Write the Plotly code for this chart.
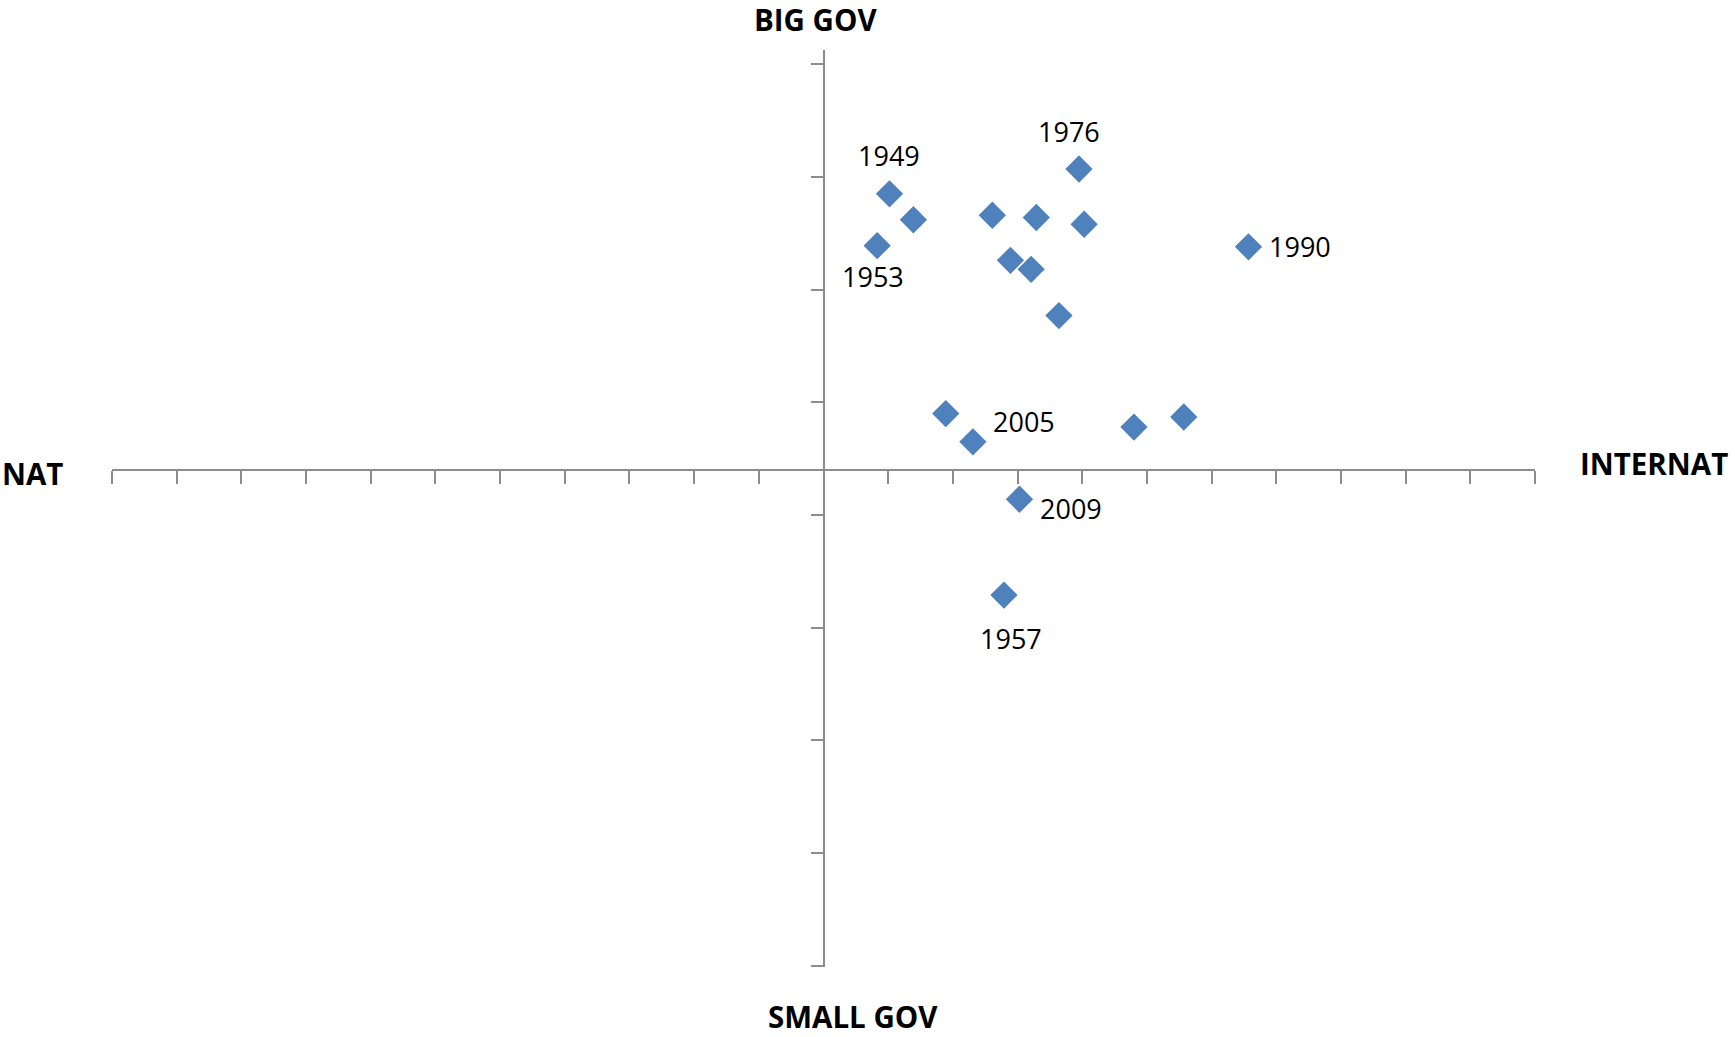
import plotly.graph_objects as go

# ---- data (axis units = tick spacing) ----
nat_internat = [1.02, 1.39, 0.83, 2.61, 3.29, 3.95, 4.03, 2.89, 3.21, 3.64,
                6.57, 1.89, 2.31, 4.80, 5.57, 3.03, 2.79]
big_small_gov = [2.45, 2.22, 1.99, 2.26, 2.24, 2.67, 2.18, 1.86, 1.78, 1.37,
                 1.98, 0.50, 0.25, 0.38, 0.47, -0.26, -1.11]
year_labels = ["1949", "", "1953", "", "", "1976", "", "", "", "",
               "1990", "", "2005", "", "", "2009", "1957"]

axis_titles = ["BIG GOV", "SMALL GOV", "NAT", "INTERNAT"]

# ---- styles / label placement (pixel offsets) ----
label_shift = {
    "1949": (0, 38), "1953": (-4, -31), "1976": (-10, 38), "1990": (52, 0),
    "2005": (51, 20), "2009": (52, -9), "1957": (7, -43),
}
title_pos = {
    "BIG GOV": (0.4946, 1.0330), "SMALL GOV": (0.5207, -0.0545),
    "NAT": (-0.056, 0.5382), "INTERNAT": (1.0839, 0.5495),
}

XR = [-11, 11]
YR = [-4.41, 3.726]
AXIS_COLOR = "#8c8c8c"
MARKER_COLOR = "#4f81bd"

fig = go.Figure()
fig.add_trace(go.Scatter(
    x=nat_internat, y=big_small_gov, mode="markers",
    marker=dict(symbol="diamond", size=21, color=MARKER_COLOR,
                line=dict(width=0)),
    hoverinfo="skip", showlegend=False,
))

annotations = []
for x, y, lab in zip(nat_internat, big_small_gov, year_labels):
    if not lab:
        continue
    dx, dy = label_shift[lab]
    annotations.append(dict(
        x=x, y=y, xref="x", yref="y", text=lab, showarrow=False,
        xshift=dx, yshift=dy, xanchor="center", yanchor="middle",
        font=dict(family="Open Sans", size=27, color="#000000"),
    ))
for t in axis_titles:
    px_, py_ = title_pos[t]
    annotations.append(dict(
        x=px_, y=py_, xref="paper", yref="paper", text="<b>" + t + "</b>",
        showarrow=False, xanchor="center", yanchor="middle", borderpad=0,
        font=dict(family="Open Sans", size=29.5, color="#000000"),
    ))

x_cross = (0 - YR[0]) / (YR[1] - YR[0])
y_cross = (0 - XR[0]) / (XR[1] - XR[0])

fig.update_layout(
    width=1735, height=1037,
    margin=dict(l=111.7, r=199.6, t=50, b=70.3, pad=0),
    paper_bgcolor="white", plot_bgcolor="white",
    xaxis=dict(range=XR, anchor="free", position=x_cross,
               showgrid=False, zeroline=False, showline=True,
               linecolor=AXIS_COLOR, linewidth=1.6,
               ticks="outside", ticklen=13, tickwidth=1.6, tickcolor=AXIS_COLOR,
               tickmode="linear", tick0=0, dtick=1, showticklabels=False),
    yaxis=dict(range=YR, anchor="free", position=y_cross,
               showgrid=False, zeroline=False, showline=True,
               linecolor=AXIS_COLOR, linewidth=1.6,
               ticks="outside", ticklen=12, tickwidth=1.6, tickcolor=AXIS_COLOR,
               tickmode="linear", tick0=0.6, dtick=1, showticklabels=False),
    annotations=annotations,
)

fig.write_html("out.html", config={"displayModeBar": False},
               post_script="document.body.style.margin='0';document.body.style.overflow='hidden';")
